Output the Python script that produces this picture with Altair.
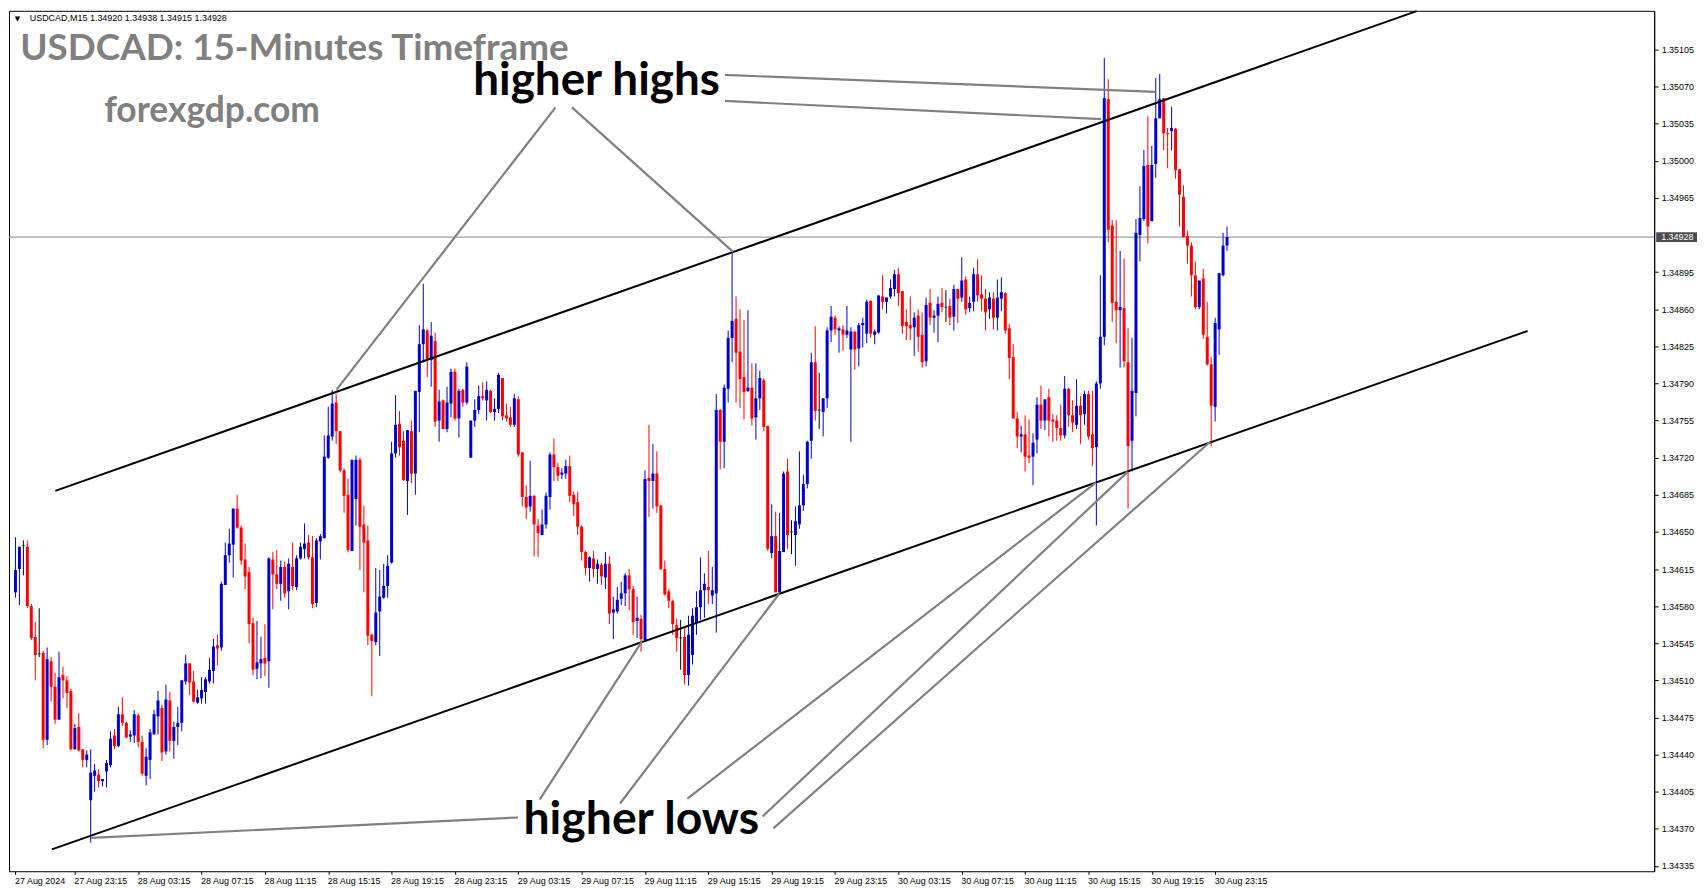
import altair as alt
import pandas as pd

opens = [
1.34593,1.34615,1.34637,1.34636,1.34580,1.34551,1.34535,1.34536,1.34454,1.34528,
1.34504,1.34473,1.34515,1.34510,1.34500,1.34445,1.34466,1.34445,1.34435,1.34397,
1.34420,1.34421,1.34415,1.34424,1.34430,1.34458,1.34448,1.34478,1.34470,1.34457,
1.34458,1.34477,1.34452,1.34420,1.34435,1.34459,1.34476,1.34484,1.34443,1.34491,
1.34453,1.34466,1.34470,1.34509,1.34526,1.34509,1.34489,1.34493,1.34499,1.34509,
1.34519,1.34543,1.34541,1.34600,1.34628,1.34638,1.34672,1.34654,1.34624,1.34612,
1.34564,1.34521,1.34526,1.34531,1.34528,1.34624,1.34610,1.34601,1.34617,1.34594,
1.34617,1.34598,1.34625,1.34634,1.34640,1.34626,1.34583,1.34641,1.34644,1.34720,
1.34740,1.34772,1.34745,1.34708,1.34685,1.34632,1.34681,1.34718,1.34657,1.34642,
1.34553,1.34546,1.34575,1.34588,1.34599,1.34621,1.34724,1.34752,1.34736,1.34698,
1.34745,1.34705,1.34782,1.34827,1.34840,1.34812,1.34830,1.34755,1.34774,1.34747,
1.34771,1.34801,1.34757,1.34784,1.34772,1.34720,1.34755,1.34765,1.34778,1.34774,
1.34783,1.34763,1.34766,1.34795,1.34760,1.34758,1.34751,1.34775,1.34725,1.34683,
1.34674,1.34684,1.34656,1.34647,1.34657,1.34683,1.34723,1.34711,1.34704,1.34705,
1.34712,1.34685,1.34678,1.34655,1.34631,1.34616,1.34625,1.34615,1.34619,1.34607,
1.34620,1.34574,1.34575,1.34587,1.34592,1.34609,1.34596,1.34566,1.34568,1.34548,
1.34701,1.34698,1.34705,1.34675,1.34615,1.34594,1.34585,1.34562,1.34550,1.34551,
1.34515,1.34534,1.34564,1.34579,1.34595,1.34598,1.34590,1.34592,1.34765,1.34735,
1.34785,1.34833,1.34851,1.34820,1.34796,1.34783,1.34786,1.34758,1.34776,1.34793,
1.34750,1.34630,1.34646,1.34593,1.34631,1.34707,1.34650,1.34647,1.34657,1.34675,
1.34695,1.34736,1.34810,1.34765,1.34763,1.34776,1.34840,1.34852,1.34840,1.34841,
1.34836,1.34822,1.34839,1.34823,1.34845,1.34837,1.34868,1.34836,1.34838,1.34872,
1.34867,1.34872,1.34879,1.34893,1.34877,1.34848,1.34845,1.34843,1.34854,1.34836,
1.34811,1.34866,1.34852,1.34854,1.34866,1.34862,1.34863,1.34853,1.34879,1.34871,
1.34888,1.34861,1.34867,1.34893,1.34874,1.34870,1.34860,1.34870,1.34852,1.34870,
1.34875,1.34842,1.34815,1.34757,1.34740,1.34742,1.34722,1.34721,1.34737,1.34770,
1.34755,1.34777,1.34756,1.34755,1.34748,1.34741,1.34785,1.34760,1.34751,1.34769,
1.34761,1.34780,1.34742,1.34730,1.34790,1.34834,1.35058,1.34939,1.34867,1.34859,
1.34861,1.34810,1.34736,1.34781,1.34930,1.34945,1.34996,1.34943,1.34997,1.35040,
1.35059,1.35026,1.35028,1.35030,1.34992,1.34966,1.34929,1.34920,1.34892,1.34862,
1.34889,1.34834,1.34808,1.34768,1.34841,1.34892,1.34920]

highs = [
1.34645,1.34636,1.34642,1.34642,1.34582,1.34565,1.34578,1.34538,1.34541,1.34532,
1.34517,1.34537,1.34523,1.34514,1.34502,1.34469,1.34479,1.34445,1.34444,1.34445,
1.34431,1.34426,1.34417,1.34435,1.34462,1.34464,1.34485,1.34494,1.34471,1.34463,
1.34482,1.34479,1.34458,1.34446,1.34464,1.34482,1.34500,1.34487,1.34506,1.34499,
1.34471,1.34485,1.34510,1.34534,1.34526,1.34519,1.34501,1.34513,1.34513,1.34531,
1.34549,1.34553,1.34603,1.34640,1.34653,1.34672,1.34685,1.34656,1.34639,1.34617,
1.34569,1.34566,1.34551,1.34563,1.34626,1.34631,1.34633,1.34623,1.34622,1.34625,
1.34640,1.34628,1.34640,1.34658,1.34647,1.34646,1.34644,1.34648,1.34741,1.34768,
1.34784,1.34780,1.34745,1.34710,1.34700,1.34718,1.34722,1.34720,1.34675,1.34656,
1.34554,1.34616,1.34614,1.34620,1.34628,1.34735,1.34779,1.34764,1.34745,1.34746,
1.34755,1.34783,1.34845,1.34884,1.34841,1.34848,1.34838,1.34784,1.34775,1.34787,
1.34804,1.34804,1.34785,1.34785,1.34810,1.34755,1.34775,1.34788,1.34791,1.34792,
1.34784,1.34776,1.34800,1.34795,1.34771,1.34768,1.34780,1.34778,1.34725,1.34694,
1.34717,1.34685,1.34662,1.34671,1.34687,1.34725,1.34738,1.34715,1.34710,1.34718,
1.34722,1.34688,1.34688,1.34656,1.34632,1.34627,1.34632,1.34624,1.34621,1.34631,
1.34627,1.34589,1.34598,1.34603,1.34611,1.34615,1.34599,1.34589,1.34572,1.34708,
1.34751,1.34733,1.34726,1.34675,1.34623,1.34596,1.34586,1.34568,1.34567,1.34559,
1.34571,1.34578,1.34594,1.34626,1.34611,1.34632,1.34617,1.34780,1.34766,1.34789,
1.34840,1.34914,1.34872,1.34860,1.34850,1.34859,1.34809,1.34809,1.34802,1.34795,
1.34750,1.34676,1.34669,1.34668,1.34707,1.34719,1.34661,1.34674,1.34726,1.34704,
1.34736,1.34819,1.34844,1.34800,1.34776,1.34843,1.34863,1.34854,1.34844,1.34845,
1.34863,1.34843,1.34839,1.34847,1.34852,1.34869,1.34868,1.34841,1.34873,1.34892,
1.34871,1.34888,1.34897,1.34899,1.34877,1.34860,1.34872,1.34857,1.34860,1.34857,
1.34871,1.34879,1.34859,1.34872,1.34880,1.34878,1.34870,1.34883,1.34879,1.34909,
1.34891,1.34872,1.34899,1.34907,1.34892,1.34879,1.34876,1.34876,1.34888,1.34890,
1.34876,1.34846,1.34827,1.34763,1.34750,1.34760,1.34756,1.34743,1.34777,1.34788,
1.34775,1.34785,1.34761,1.34760,1.34770,1.34797,1.34786,1.34774,1.34794,1.34778,
1.34783,1.34783,1.34783,1.34792,1.34892,1.35097,1.35077,1.34944,1.34944,1.34915,
1.34908,1.34842,1.34833,1.34945,1.34976,1.35010,1.35042,1.35014,1.35078,1.35082,
1.35059,1.35031,1.35051,1.35031,1.34992,1.34977,1.34934,1.34923,1.34905,1.34887,
1.34898,1.34867,1.34815,1.34852,1.34894,1.34932,1.34938]

lows = [
1.34588,1.34581,1.34609,1.34578,1.34548,1.34510,1.34532,1.34446,1.34449,1.34490,
1.34469,1.34473,1.34493,1.34484,1.34444,1.34445,1.34443,1.34428,1.34428,1.34357,
1.34405,1.34409,1.34410,1.34409,1.34428,1.34445,1.34447,1.34467,1.34456,1.34452,
1.34451,1.34447,1.34420,1.34411,1.34417,1.34459,1.34459,1.34434,1.34440,1.34443,
1.34436,1.34449,1.34462,1.34506,1.34496,1.34489,1.34488,1.34488,1.34488,1.34507,
1.34507,1.34524,1.34538,1.34600,1.34621,1.34607,1.34653,1.34619,1.34596,1.34545,
1.34515,1.34511,1.34512,1.34514,1.34503,1.34577,1.34596,1.34585,1.34588,1.34577,
1.34595,1.34595,1.34624,1.34625,1.34624,1.34578,1.34579,1.34624,1.34644,1.34719,
1.34736,1.34733,1.34706,1.34668,1.34631,1.34632,1.34656,1.34614,1.34593,1.34543,
1.34495,1.34543,1.34533,1.34587,1.34588,1.34620,1.34720,1.34722,1.34698,1.34666,
1.34696,1.34685,1.34744,1.34810,1.34796,1.34787,1.34749,1.34735,1.34747,1.34744,
1.34758,1.34755,1.34739,1.34768,1.34770,1.34720,1.34749,1.34761,1.34774,1.34755,
1.34762,1.34755,1.34762,1.34755,1.34754,1.34749,1.34749,1.34721,1.34674,1.34662,
1.34669,1.34627,1.34626,1.34647,1.34653,1.34671,1.34698,1.34698,1.34700,1.34700,
1.34678,1.34665,1.34647,1.34623,1.34609,1.34603,1.34607,1.34601,1.34600,1.34596,
1.34563,1.34549,1.34573,1.34581,1.34580,1.34576,1.34553,1.34550,1.34537,1.34548,
1.34664,1.34672,1.34668,1.34614,1.34590,1.34578,1.34553,1.34537,1.34520,1.34506,
1.34505,1.34525,1.34553,1.34567,1.34569,1.34582,1.34582,1.34555,1.34709,1.34710,
1.34772,1.34810,1.34772,1.34767,1.34756,1.34782,1.34750,1.34737,1.34765,1.34745,
1.34632,1.34625,1.34593,1.34593,1.34631,1.34634,1.34629,1.34618,1.34653,1.34670,
1.34691,1.34719,1.34755,1.34747,1.34740,1.34767,1.34829,1.34836,1.34819,1.34821,
1.34833,1.34735,1.34803,1.34806,1.34824,1.34828,1.34833,1.34827,1.34837,1.34860,
1.34856,1.34870,1.34872,1.34863,1.34837,1.34831,1.34831,1.34816,1.34820,1.34805,
1.34806,1.34845,1.34838,1.34829,1.34857,1.34848,1.34845,1.34840,1.34847,1.34867,
1.34855,1.34857,1.34858,1.34867,1.34858,1.34840,1.34851,1.34841,1.34840,1.34858,
1.34837,1.34794,1.34757,1.34729,1.34725,1.34707,1.34715,1.34694,1.34724,1.34747,
1.34746,1.34740,1.34735,1.34736,1.34736,1.34738,1.34749,1.34744,1.34747,1.34733,
1.34751,1.34737,1.34712,1.34656,1.34785,1.34826,1.34923,1.34848,1.34828,1.34805,
1.34805,1.34672,1.34707,1.34759,1.34905,1.34943,1.34922,1.34943,1.34984,1.35040,
1.35010,1.34993,1.35010,1.34983,1.34938,1.34928,1.34903,1.34872,1.34860,1.34860,
1.34832,1.34807,1.34731,1.34754,1.34817,1.34891,1.34915]

closes = [
1.34614,1.34636,1.34637,1.34580,1.34550,1.34534,1.34535,1.34454,1.34530,1.34504,
1.34473,1.34513,1.34510,1.34498,1.34445,1.34465,1.34444,1.34435,1.34440,1.34423,
1.34425,1.34415,1.34417,1.34432,1.34455,1.34448,1.34478,1.34470,1.34456,1.34459,
1.34478,1.34452,1.34422,1.34438,1.34461,1.34478,1.34491,1.34442,1.34492,1.34453,
1.34466,1.34470,1.34510,1.34526,1.34508,1.34490,1.34494,1.34501,1.34511,1.34520,
1.34542,1.34540,1.34601,1.34628,1.34639,1.34672,1.34654,1.34623,1.34608,1.34563,
1.34520,1.34527,1.34530,1.34526,1.34625,1.34610,1.34601,1.34617,1.34592,1.34620,
1.34599,1.34625,1.34636,1.34639,1.34626,1.34582,1.34642,1.34646,1.34721,1.34741,
1.34771,1.34745,1.34708,1.34684,1.34633,1.34718,1.34718,1.34655,1.34640,1.34552,
1.34547,1.34574,1.34589,1.34599,1.34618,1.34724,1.34751,1.34730,1.34699,1.34746,
1.34705,1.34783,1.34827,1.34841,1.34812,1.34835,1.34754,1.34773,1.34747,1.34772,
1.34801,1.34757,1.34783,1.34772,1.34806,1.34755,1.34765,1.34778,1.34776,1.34784,
1.34763,1.34766,1.34798,1.34759,1.34757,1.34751,1.34776,1.34723,1.34683,1.34673,
1.34684,1.34657,1.34649,1.34657,1.34684,1.34723,1.34711,1.34703,1.34706,1.34712,
1.34684,1.34676,1.34655,1.34631,1.34616,1.34626,1.34615,1.34620,1.34608,1.34620,
1.34573,1.34577,1.34586,1.34592,1.34609,1.34596,1.34565,1.34569,1.34549,1.34700,
1.34698,1.34705,1.34674,1.34615,1.34591,1.34585,1.34563,1.34550,1.34550,1.34515,
1.34553,1.34571,1.34579,1.34595,1.34601,1.34595,1.34595,1.34765,1.34735,1.34786,
1.34833,1.34849,1.34819,1.34794,1.34782,1.34786,1.34757,1.34776,1.34795,1.34749,
1.34634,1.34646,1.34593,1.34632,1.34705,1.34647,1.34650,1.34660,1.34675,1.34695,
1.34735,1.34810,1.34764,1.34765,1.34776,1.34840,1.34853,1.34841,1.34842,1.34836,
1.34840,1.34839,1.34822,1.34845,1.34847,1.34867,1.34837,1.34839,1.34873,1.34867,
1.34871,1.34880,1.34893,1.34875,1.34844,1.34844,1.34842,1.34852,1.34834,1.34810,
1.34864,1.34852,1.34854,1.34865,1.34862,1.34862,1.34852,1.34879,1.34870,1.34887,
1.34860,1.34866,1.34893,1.34873,1.34870,1.34857,1.34871,1.34852,1.34871,1.34876,
1.34840,1.34814,1.34757,1.34740,1.34742,1.34721,1.34720,1.34734,1.34770,1.34755,
1.34775,1.34755,1.34754,1.34748,1.34741,1.34785,1.34760,1.34753,1.34769,1.34760,
1.34780,1.34740,1.34729,1.34790,1.34834,1.35059,1.34935,1.34866,1.34859,1.34862,
1.34811,1.34731,1.34783,1.34932,1.34946,1.34995,1.34938,1.34996,1.35040,1.35058,
1.35026,1.35025,1.35031,1.34991,1.34968,1.34928,1.34920,1.34892,1.34862,1.34887,
1.34836,1.34808,1.34769,1.34847,1.34894,1.34920,1.34928]

time_bars = [0, 15, 31, 47, 63, 79, 95, 111, 127, 143, 159, 175, 191, 207, 223, 239, 255, 271, 287, 303]
time_labels = ["27 Aug 2024", "27 Aug 23:15", "28 Aug 03:15", "28 Aug 07:15", "28 Aug 11:15",
               "28 Aug 15:15", "28 Aug 19:15", "28 Aug 23:15", "29 Aug 03:15", "29 Aug 07:15",
               "29 Aug 11:15", "29 Aug 15:15", "29 Aug 19:15", "29 Aug 23:15", "30 Aug 03:15",
               "30 Aug 07:15", "30 Aug 11:15", "30 Aug 15:15", "30 Aug 19:15", "30 Aug 23:15"]
price_ticks = [1.34335, 1.34370, 1.34405, 1.34440, 1.34475, 1.34510, 1.34545, 1.34580, 1.34615,
               1.34650, 1.34685, 1.34720, 1.34755, 1.34790, 1.34825, 1.34860, 1.34895, 1.34965,
               1.35000, 1.35035, 1.35070, 1.35105]

# channel lines (bar index, price)
chan_x1 = [10.05, 9.2]
chan_y1 = [1.346887, 1.343506]
chan_x2 = [353.9, 381.9]
chan_y2 = [1.351411, 1.348395]

# grey pointer lines
ptr_x1 = [136.4, 140.55, 179.2, 179.2, 126.9, 132.4, 152.7, 169.7, 188.7, 191.4]
ptr_y1 = [1.350503, 1.350503, 1.350809, 1.350564, 1.343807, 1.343976, 1.343939, 1.343985, 1.343816, 1.343704]
ptr_x2 = [81.1, 181.25, 287.9, 274.2, 19.2, 158.2, 192.9, 272.9, 280.9, 301.7]
ptr_y2 = [1.347842, 1.349141, 1.350650, 1.350393, 1.343615, 1.345465, 1.345917, 1.346965, 1.347066, 1.347348]

W, H = 1652, 864
X0 = -0.375
xs = alt.Scale(domain=[X0, X0 + W / 4], nice=False, zero=False)
ys = alt.Scale(domain=[1.343300, 1.351414], nice=False, zero=False)
col = alt.Scale(domain=["up", "down", "flat"], range=["#0000CD", "#FF0000", "#000000"])

n = len(opens)
dirs = ["up" if c > o else ("down" if c < o else "flat") for o, c in zip(opens, closes)]
candles = pd.DataFrame({"bar": list(range(n)), "open": opens, "high": highs,
                        "low": lows, "close": closes, "dir": dirs})

label_expr = " : ".join("datum.value == %d ? '%s'" % (b, t) for b, t in zip(time_bars, time_labels)) + " : ''"
AX_FONT = "Liberation Sans"

xaxis = alt.Axis(values=time_bars, labelExpr=label_expr, labelAlign="left", labelBaseline="top",
                 labelPadding=2, tickSize=3, tickColor="black", domain=False, grid=False,
                 labelFont=AX_FONT, labelFontSize=9, labelColor="black", title=None,
                 labelOverlap=False, labelBound=False, labelFlush=False, labelOffset=-1)
yaxis = alt.Axis(orient="right", values=price_ticks, format=".5f", tickSize=4, labelPadding=3,
                 domainColor="black", tickColor="black", grid=False, labelFont=AX_FONT,
                 labelFontSize=9, labelColor="black", title=None, labelOverlap=False, labelFlush=False)

X = lambda f: alt.X(f, type="quantitative", scale=xs, axis=xaxis)
Y = lambda f: alt.Y(f, type="quantitative", scale=ys, axis=yaxis)

price_line = alt.Chart(pd.DataFrame({"price": [closes[-1]]})).mark_rule(
    color="#778899", strokeWidth=1).encode(y=Y("price"))

wicks = alt.Chart(candles).mark_rule(strokeWidth=1).encode(
    x=X("bar"), y=Y("low"), y2="high:Q",
    color=alt.Color("dir:N", scale=col, legend=None))

bodies = alt.Chart(candles).transform_filter("datum.dir != 'flat'").mark_bar(size=3).encode(
    x=X("bar"), y=Y("open"), y2="close:Q",
    color=alt.Color("dir:N", scale=col, legend=None))

dojis = alt.Chart(candles).transform_filter("datum.dir == 'flat'").mark_tick(
    orient="horizontal", size=3, thickness=1, color="black").encode(x=X("bar"), y=Y("close"))

chan_df = pd.DataFrame({"x1": chan_x1, "y1": chan_y1, "x2": chan_x2, "y2": chan_y2})
channels = alt.Chart(chan_df).mark_rule(color="black", strokeWidth=2).encode(
    x=X("x1"), y=Y("y1"), x2="x2:Q", y2="y2:Q")

ptr_df = pd.DataFrame({"x1": ptr_x1, "y1": ptr_y1, "x2": ptr_x2, "y2": ptr_y2})
pointers = alt.Chart(ptr_df).mark_rule(color="#808080", strokeWidth=2.2).encode(
    x=X("x1"), y=Y("y1"), x2="x2:Q", y2="y2:Q")

def label(bar, price, text, **kw):
    d = pd.DataFrame({"bar": [bar], "price": [price], "text": [text]})
    return alt.Chart(d).mark_text(**kw).encode(x=X("bar"), y=Y("price"), text="text:N")

title = label(1.2, 1.350949, "USDCAD: 15-Minutes Timeframe", align="left", baseline="alphabetic",
              font="Lato", fontWeight="bold", fontSize=37, color="#808080")
site = label(22.4, 1.350370, "forexgdp.com", align="left", baseline="alphabetic",
             font="Lato", fontWeight="bold", fontSize=35.5, color="#808080")
hh = label(115.6, 1.350620, "higher highs", align="left", baseline="alphabetic",
           font="Lato", fontWeight="bold", fontSize=46, color="black")
hl = label(128.3, 1.343650, "higher lows", align="left", baseline="alphabetic",
           font="Lato", fontWeight="bold", fontSize=46.5, color="black")
header = label(3.6, 1.351350, "USDCAD,M15  1.34920 1.34938 1.34915 1.34928", align="left",
               baseline="middle", font=AX_FONT, fontSize=9, color="black")
tri = label(0.5, 1.351335, "\u25bc", align="center", baseline="middle",
            font="DejaVu Sans", fontSize=7, color="black")

last_df = pd.DataFrame({"price": [closes[-1]]})
box = alt.Chart(last_df).mark_tick(orient="horizontal", size=41, thickness=10, color="black").encode(
    x=alt.value(W + 22.5), y=Y("price"))
box_text = alt.Chart(last_df).mark_text(align="left", baseline="middle", color="white",
                                        font=AX_FONT, fontSize=9).encode(
    x=alt.value(W + 7), y=Y("price"), text=alt.Text("price:Q", format=".5f"))

chart = alt.layer(price_line, wicks, bodies, dojis, channels, pointers,
                  title, site, hh, hl, header, tri, box, box_text).properties(
    width=W, height=H, padding=0, background="white"
).configure_view(stroke="black", strokeWidth=1)

chart.save("out.html", embed_options={"renderer": "svg", "actions": False})
